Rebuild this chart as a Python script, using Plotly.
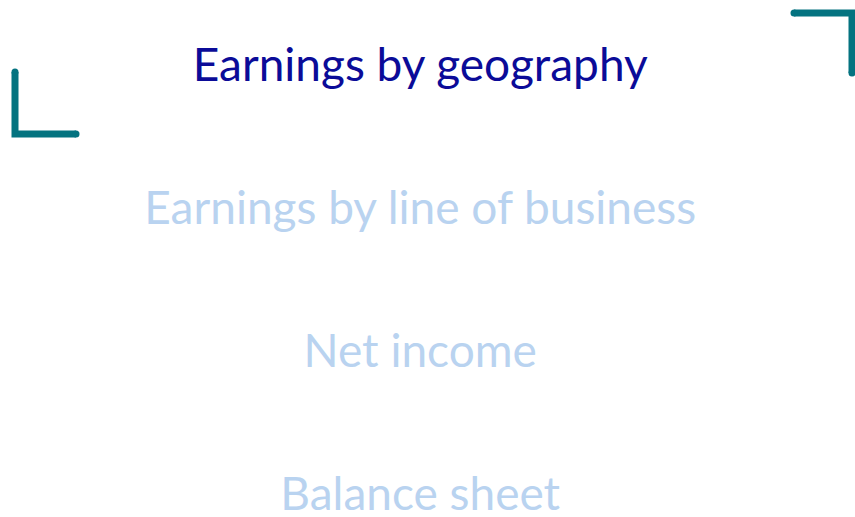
import plotly.graph_objects as go

# Menu items (categories) and state
items = ["Earnings by geography", "Earnings by line of business", "Net income", "Balance sheet"]
active_index = 0
item_positions = [0, 1, 2, 3]

ACTIVE = "#0b0b98"
INACTIVE = "#b9d3f0"
TEAL = "#047380"
FONT = "Lato"
W, H = 855, 517

colors = [ACTIVE if i == active_index else INACTIVE for i in item_positions]

fig = go.Figure()
fig.add_trace(go.Scatter(
    x=[0.5] * len(items), y=item_positions, mode="text", text=items,
    textposition="middle center",
    textfont=dict(family=FONT, size=46, color=colors),
    hoverinfo="skip", showlegend=False, cliponaxis=False,
))

# pixel-to-paper helpers for the decorative brackets
def px(x):
    return x / W

def py(y):
    return 1 - y / H

lw = 7
left_path = f"M {px(15)} {py(72)} L {px(15)} {py(134)} L {px(76)} {py(134)}"
right_path = f"M {px(794)} {py(13)} L {px(852)} {py(13)} L {px(852)} {py(73)}"
shapes = [
    dict(type="path", xref="paper", yref="paper", path=left_path,
         line=dict(color=TEAL, width=lw)),
    dict(type="path", xref="paper", yref="paper", path=right_path,
         line=dict(color=TEAL, width=lw)),
]
r = lw / 2
for (cx, cy) in [(15, 72), (76, 134), (794, 13), (852, 73)]:
    shapes.append(dict(type="circle", xref="paper", yref="paper",
                       x0=px(cx - r), x1=px(cx + r), y0=py(cy + r), y1=py(cy - r),
                       fillcolor=TEAL, line=dict(width=0)))

# y axis maps item index -> pixel centre c0 + 143*i
c0 = 69
top = -c0 / 143
bottom = (H - c0) / 143
fig.update_layout(
    width=W, height=H, margin=dict(l=0, r=0, t=0, b=0),
    paper_bgcolor="white", plot_bgcolor="white",
    xaxis=dict(range=[0.0085, 1.0085], visible=False, fixedrange=True),
    yaxis=dict(range=[bottom, top], visible=False, fixedrange=True),
    shapes=shapes,
)
fig.write_html(
    "out.html",
    config={"displayModeBar": False},
    post_script="document.body.style.margin='0';document.body.style.overflow='hidden';",
)
